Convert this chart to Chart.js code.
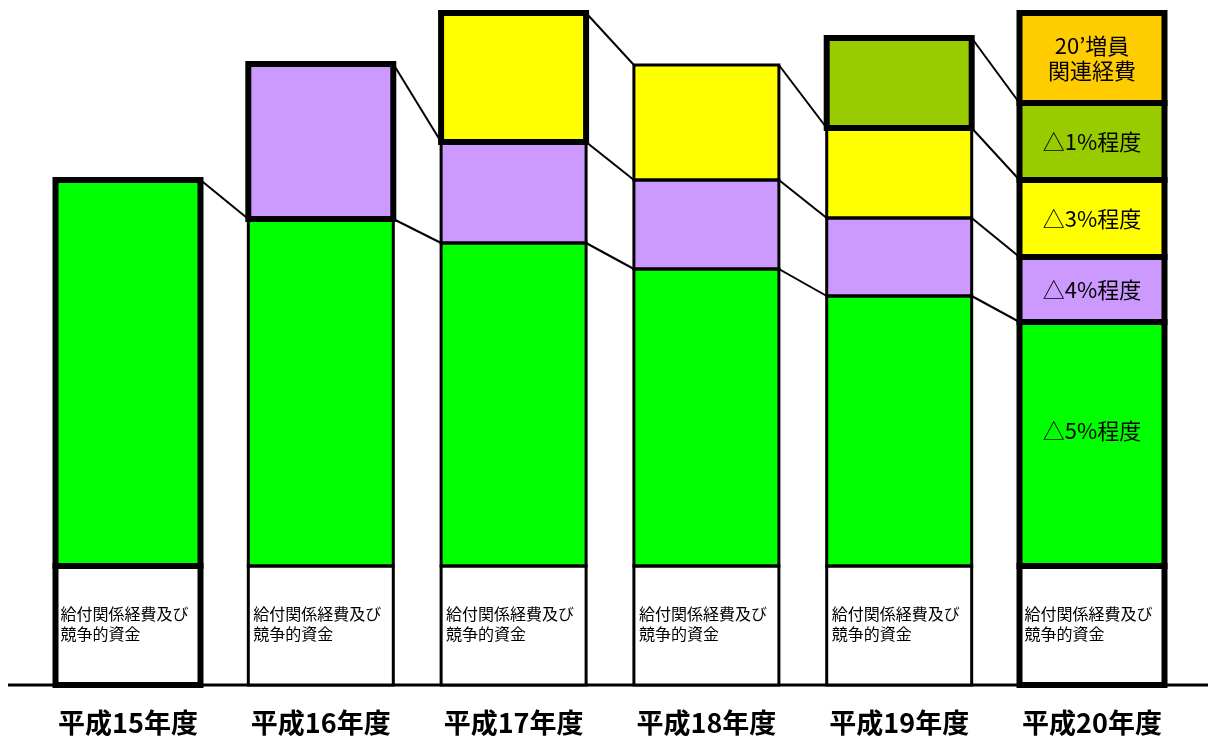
<!DOCTYPE html>
<html>
<head>
<meta charset="utf-8">
<script src="https://cdn.jsdelivr.net/npm/chart.js@4/dist/chart.umd.min.js"></script>
<style>
body{margin:0;background:#fff}
</style>
</head>
<body>
<canvas id="chart" width="1208" height="737"></canvas>
<script>
// ================= DATA =================
const years = ["平成15年度","平成16年度","平成17年度","平成18年度","平成19年度","平成20年度"];

// stacked segments, bottom to top (arbitrary height units)
const fixedFunds  = [119,119,119,119,119,119];   // 給付関係経費及び競争的資金
const cut5        = [386,347,323,297,270,244];   // △5%程度
const cut4        = [null,155,101,89,78,65];     // △4%程度
const cut3        = [null,null,129,115,90,77];   // △3%程度
const cut1        = [null,null,null,null,90,77]; // △1%程度
const staffCost   = [null,null,null,null,null,90]; // 20'増員関連経費

const fixedLabel = ["給付関係経費及び","競争的資金"];
const lastBarLabels = [null,["△5%程度"],["△4%程度"],["△3%程度"],["△1%程度"],["20’増員","関連経費"]];

const FONT = '"Noto Sans CJK JP", "Noto Sans", sans-serif';

// ================= DRAWING PLUGIN =================
const segmentPlugin = {
id:"segments",

beforeDatasetsDraw(chart){
const ctx=chart.ctx;
const y=chart.chartArea.bottom;
ctx.save();
ctx.strokeStyle="#000";
ctx.lineWidth=3;
ctx.beginPath();
ctx.moveTo(8,y);
ctx.lineTo(chart.width,y);
ctx.stroke();
ctx.restore();
},

afterDatasetsDraw(chart){
const ctx=chart.ctx;
const sets=chart.data.datasets;
ctx.save();
ctx.strokeStyle="#000";

// connector lines between bars
ctx.lineWidth=2;
sets.forEach((ds,d)=>{
if(!ds.connect) return;
const meta=chart.getDatasetMeta(d);
for(let i=0;i<meta.data.length-1;i++){
if(ds.data[i]==null||ds.data[i+1]==null) continue;
const a=meta.data[i].getProps(["x","y","width"],true);
const b=meta.data[i+1].getProps(["x","y","width"],true);
ctx.beginPath();
ctx.moveTo(a.x+a.width/2,a.y);
ctx.lineTo(b.x-b.width/2,b.y);
ctx.stroke();
}
});

// segment borders, thin first then thick
[false,true].forEach(pass=>{
sets.forEach((ds,d)=>{
const meta=chart.getDatasetMeta(d);
meta.data.forEach((el,i)=>{
if(ds.data[i]==null) return;
if(!!ds.thick[i]!==pass) return;
const p=el.getProps(["x","y","base","width"],true);
ctx.lineWidth=pass?6:3;
ctx.strokeRect(p.x-p.width/2,p.y,p.width,p.base-p.y);
});
});
});

// texts
ctx.fillStyle="#000";
ctx.textBaseline="middle";

ctx.font="16px "+FONT;
ctx.textAlign="left";
chart.getDatasetMeta(0).data.forEach(el=>{
const p=el.getProps(["x","y","width"],true);
fixedLabel.forEach((t,k)=>ctx.fillText(t,p.x-p.width/2+5,p.y+48+k*20));
});

ctx.font="22px "+FONT;
ctx.textAlign="center";
const last=years.length-1;
lastBarLabels.forEach((lines,d)=>{
if(!lines) return;
const p=chart.getDatasetMeta(d).data[last].getProps(["x","y","base"],true);
let cy=(p.y+p.base)/2;
if(d===1) cy-=13;
const top=cy-(lines.length-1)*25/2;
lines.forEach((t,k)=>ctx.fillText(t,p.x,top+k*25));
});

ctx.restore();
}
};

// ================= CHART =================
function seg(data,color,thick,connect){
return {data:data,backgroundColor:color,borderWidth:0,thick:thick,connect:connect};
}

new Chart(document.getElementById("chart"),{
type:"bar",
data:{
labels:years,
datasets:[
seg(fixedFunds,"#ffffff",[1,0,0,0,0,1],false),
seg(cut5,"#00ff00",[1,0,0,0,0,1],true),
seg(cut4,"#cc99ff",[0,1,0,0,0,1],true),
seg(cut3,"#ffff00",[0,0,1,0,0,1],true),
seg(cut1,"#99cc00",[0,0,0,0,1,1],true),
seg(staffCost,"#ffcc00",[0,0,0,0,0,1],false)
]
},
options:{
responsive:false,
animation:false,
layout:{padding:{left:31.6,right:19.6,top:0,bottom:0}},
plugins:{legend:{display:false},tooltip:{enabled:false}},
datasets:{bar:{barPercentage:0.752,categoryPercentage:1}},
scales:{
x:{
stacked:true,
grid:{display:false,drawTicks:false},
border:{display:false},
ticks:{color:"#000",padding:22,font:{family:FONT,size:27,weight:"bold",lineHeight:1.2}},
afterFit(scale){scale.height=52;}
},
y:{
stacked:true,
display:false,
min:0,
max:685
}
}
},
plugins:[segmentPlugin]
});
</script>
</body>
</html>
